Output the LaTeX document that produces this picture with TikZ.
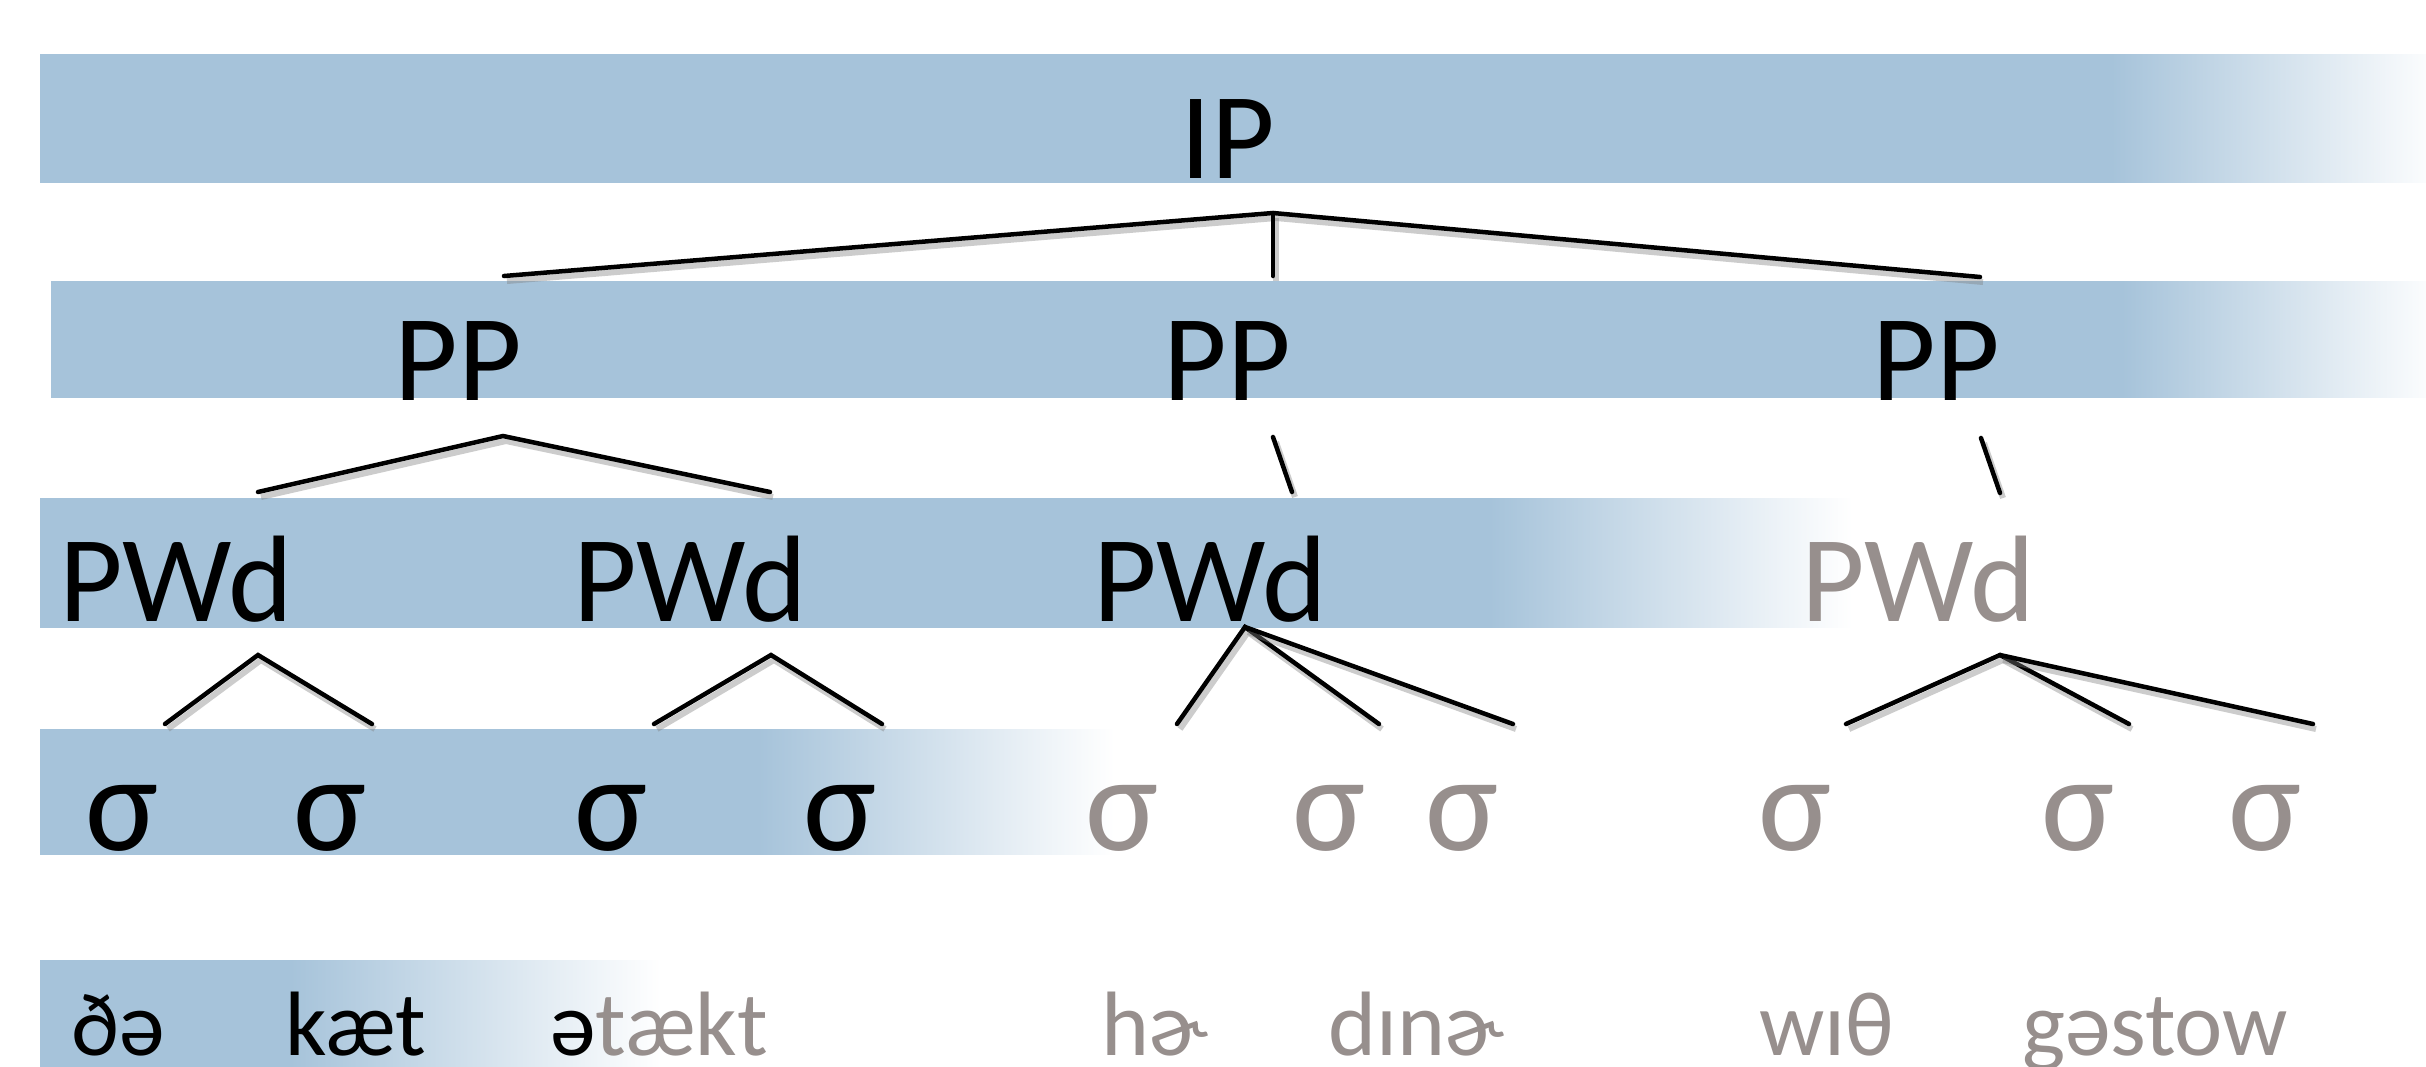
\documentclass[tikz,border=0pt]{standalone}
\usepackage{fontspec}
\setmainfont{Carlito}
\definecolor{band}{RGB}{166,195,218}
\definecolor{greytxt}{RGB}{151,143,141}
\pgfdeclarehorizontalshading{ipshade}{100bp}{color(0bp)=(band); color(25bp)=(band); color(68.4bp)=(band); color(75bp)=(band!5); color(100bp)=(band!5)}
\pgfdeclarehorizontalshading{ppshade}{100bp}{color(0bp)=(band); color(25bp)=(band); color(68.6bp)=(band); color(75bp)=(band!5); color(100bp)=(band!5)}
\pgfdeclarehorizontalshading{pwshade}{100bp}{color(0bp)=(band); color(25bp)=(band); color(65bp)=(band); color(75bp)=(white); color(100bp)=(white)}
\pgfdeclarehorizontalshading{sgshade}{100bp}{color(0bp)=(band); color(25bp)=(band); color(58.4bp)=(band); color(75bp)=(white); color(100bp)=(white)}
\pgfdeclarehorizontalshading{wdshade}{100bp}{color(0bp)=(band); color(25bp)=(band); color(45.1bp)=(band); color(75bp)=(white); color(100bp)=(white)}
\begin{document}
\begin{tikzpicture}[x=0.01cm,y=-0.01cm]
\tikzset{
  lab/.style={inner sep=0pt, anchor=base, font=\fontsize{35pt}{40pt}\selectfont},
  sig/.style={inner sep=0pt, anchor=base, font=\fontsize{39pt}{44pt}\selectfont},
  wrd/.style={inner sep=0pt, anchor=base, font=\fontsize{26pt}{30pt}\selectfont},
  dim/.style={text=greytxt},
  tie/.style={line width=0.045cm, black, line cap=round,
    preaction={draw=black!50, line width=0.06cm, opacity=0.4,
      transform canvas={shift={(0.03cm,-0.05cm)}}}},
  bandshade/.style={shading=#1, draw=none}
}
\fill[white] (0,0) rectangle (2426,1066);
\useasboundingbox (0,0) rectangle (2426,1066);
% bands
\shade[bandshade=ipshade] (40,54) rectangle (2426,182);
\shade[bandshade=ppshade] (51,281) rectangle (2426,397);
\shade[bandshade=pwshade] (40,498) rectangle (1852,627);
\shade[bandshade=sgshade] (40,729) rectangle (1114,854);
\shade[bandshade=wdshade] (40,960) rectangle (662,1066);
% junction coordinates
\coordinate (ipj) at (1273,213);
\coordinate (pp1u) at (504,276);
\coordinate (pp2u) at (1273,276);
\coordinate (pp3u) at (1980,277);
\coordinate (pp1j) at (503,436);
\coordinate (pw1u) at (258,492);
\coordinate (pw2u) at (770,492);
\coordinate (pp2j) at (1273,437);
\coordinate (pw3u) at (1292,492);
\coordinate (pp3j) at (1981,438);
\coordinate (pw4u) at (2000,493);
\coordinate (pw1j) at (258,655);
\coordinate (s1u) at (165,724);
\coordinate (s2u) at (372,724);
\coordinate (pw2j) at (771,655);
\coordinate (s3u) at (654,724);
\coordinate (s4u) at (882,724);
\coordinate (pw3j) at (1245,627);
\coordinate (s5u) at (1177,724);
\coordinate (s6u) at (1379,724);
\coordinate (s7u) at (1513,724);
\coordinate (pw4j) at (2000,655);
\coordinate (s8u) at (1846,724);
\coordinate (s9u) at (2129,724);
\coordinate (s10u) at (2313,724);
% connectors
\draw[tie] (pp1u) -- (ipj) -- (pp3u);
\draw[tie] (ipj) -- (pp2u);
\draw[tie] (pw1u) -- (pp1j) -- (pw2u);
\draw[tie] (pp2j) -- (pw3u);
\draw[tie] (pp3j) -- (pw4u);
\draw[tie] (s1u) -- (pw1j) -- (s2u);
\draw[tie] (s3u) -- (pw2j) -- (s4u);
\draw[tie] (s5u) -- (pw3j) -- (s6u);
\draw[tie] (pw3j) -- (s7u);
\draw[tie] (s8u) -- (pw4j) -- (s9u);
\draw[tie] (pw4j) -- (s10u);
% labels
\node[lab] (ip) at (1228,178) {IP};
\node[lab] (pp1) at (458,400) {PP};
\node[lab] (pp2) at (1227,400) {PP};
\node[lab] (pp3) at (1936,400) {PP};
\node[lab] (pw1) at (176,621) {PWd};
\node[lab] (pw2) at (690,621) {PWd};
\node[lab] (pw3) at (1210,621) {PWd};
\node[lab,dim] (pw4) at (1918,621) {PWd};
\node[sig] (s1) at (122,850) {σ};
\node[sig] (s2) at (330,850) {σ};
\node[sig] (s3) at (611,850) {σ};
\node[sig] (s4) at (840,850) {σ};
\node[sig,dim] (s5) at (1122,850) {σ};
\node[sig,dim] (s6) at (1329,850) {σ};
\node[sig,dim] (s7) at (1462,850) {σ};
\node[sig,dim] (s8) at (1795,850) {σ};
\node[sig,dim] (s9) at (2078,850) {σ};
\node[sig,dim] (s10) at (2265,850) {σ};
\node[wrd] (w1) at (118,1055) {ðə};
\node[wrd] (w2) at (356,1055) {kæt};
\node[wrd] (w3) at (659,1055) {ə\textcolor{greytxt}{tækt}};
\node[wrd,dim] (w4) at (1155,1055) {hɚ};
\node[wrd,dim] (w5) at (1416,1055) {dɪnɚ};
\node[wrd,dim] (w6) at (1827,1055) {wɪθ};
\node[wrd,dim] (w7) at (2155,1055) {gəstow};
\end{tikzpicture}
\end{document}
